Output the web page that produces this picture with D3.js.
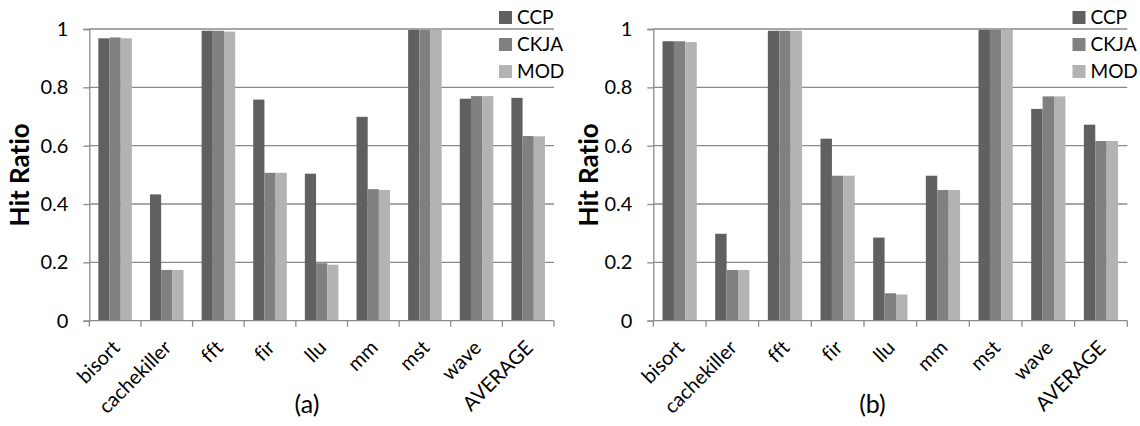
<!DOCTYPE html>
<html>
<head>
<meta charset="utf-8">
<script src="https://cdn.jsdelivr.net/npm/d3@7"></script>
<style>
  body { margin: 0; background: #fff; }
  svg text { font-family: Lato, "Open Sans", sans-serif; fill: #000; font-variant-ligatures: none; }
</style>
</head>
<body>
<svg id="chart" width="1140" height="426"></svg>
<script>
'use strict';
const categories = ["bisort", "cachekiller", "fft", "fir", "llu", "mm", "mst", "wave", "AVERAGE"];
const seriesNames = ["CCP", "CKJA", "MOD"];
const yTicks = [0, 0.2, 0.4, 0.6, 0.8, 1];

// panel (a)
const ccpA  = [0.968, 0.433, 0.994, 0.758, 0.504, 0.699, 0.997, 0.761, 0.764];
const ckjaA = [0.971, 0.174, 0.994, 0.507, 0.197, 0.451, 0.997, 0.770, 0.633];
const modA  = [0.968, 0.174, 0.991, 0.507, 0.192, 0.448, 0.997, 0.770, 0.632];

// panel (b)
const ccpB  = [0.958, 0.298, 0.994, 0.624, 0.285, 0.497, 0.997, 0.726, 0.672];
const ckjaB = [0.958, 0.174, 0.994, 0.497, 0.094, 0.448, 0.997, 0.769, 0.616];
const modB  = [0.955, 0.174, 0.994, 0.497, 0.090, 0.448, 0.997, 0.769, 0.616];

const colors = ["#606060", "#808080", "#b3b3b3"];
const gridColor = "#8a8a8a";

let svg = d3.select("#chart");

drawPanel({left: 89.3, right: 554, titleX: 28.5, legendX: 499, label: "(a)", labelX: 307},
          [ccpA, ckjaA, modA]);
drawPanel({left: 653.3, right: 1127.3, titleX: 598, legendX: 1072.5, label: "(b)", labelX: 872.5},
          [ccpB, ckjaB, modB]);

function drawPanel(p, series) {
    let top = 29, bottom = 320.7;
    let g = svg.append("g");

    let x = d3.scaleBand()
        .domain(categories)
        .range([p.left, p.right])
        .paddingInner(0.35)
        .paddingOuter(0.175);
    let xs = d3.scaleBand()
        .domain(seriesNames)
        .range([0, x.bandwidth()]);
    let y = d3.scaleLinear()
        .domain([0, 1])
        .range([bottom, top]);

    // grid lines
    g.append("g")
        .selectAll("line")
        .data(yTicks.filter(t => t > 0))
        .enter().append("line")
            .attr("x1", p.left).attr("x2", p.right)
            .attr("y1", d => y(d)).attr("y2", d => y(d))
            .attr("stroke", gridColor).attr("stroke-width", 1.3);

    // y axis
    let yAxis = g.append("g")
        .attr("transform", "translate(" + p.left + ",0)")
        .call(d3.axisLeft(y).tickValues(yTicks).tickSize(6).tickPadding(15)
            .tickFormat(d => d3.format("")(d)));
    yAxis.select(".domain").attr("stroke", gridColor).attr("stroke-width", 1.3);
    yAxis.selectAll(".tick line").attr("stroke", gridColor).attr("stroke-width", 1.3);
    yAxis.selectAll(".tick text").attr("font-size", 20).attr("fill", "#000")
        .style("font-family", "Lato, sans-serif");

    // bars
    let groups = g.append("g")
        .selectAll("g")
        .data(categories)
        .enter().append("g")
            .attr("transform", d => "translate(" + x(d) + ",0)");
    groups.selectAll("rect")
        .data((d, i) => seriesNames.map((s, k) => ({s: s, k: k, v: series[k][i]})))
        .enter().append("rect")
            .attr("x", d => xs(d.s))
            .attr("width", xs.bandwidth())
            .attr("y", d => y(d.v))
            .attr("height", d => bottom - y(d.v))
            .attr("fill", d => colors[d.k]);

    // x axis: ticks at category boundaries
    let bounds = categories.map(c => x(c) - x.step() * x.paddingInner() / 2);
    bounds.push(p.right);
    g.append("line")
        .attr("x1", p.left).attr("x2", p.right)
        .attr("y1", bottom).attr("y2", bottom)
        .attr("stroke", gridColor).attr("stroke-width", 1.3);
    g.append("g")
        .selectAll("line")
        .data(bounds)
        .enter().append("line")
            .attr("x1", d => d).attr("x2", d => d)
            .attr("y1", bottom).attr("y2", bottom + 6)
            .attr("stroke", gridColor).attr("stroke-width", 1.3);

    g.append("g")
        .selectAll("text")
        .data(categories)
        .enter().append("text")
            .attr("transform", d => "translate(" + (x(d) + x.bandwidth() / 2 + 1) + "," + 344 + ") rotate(-45)")
            .attr("text-anchor", "end")
            .attr("dy", "0.35em")
            .attr("font-size", 20)
            .text(d => d);

    // axis title
    g.append("text")
        .attr("transform", "translate(" + p.titleX + "," + ((top + bottom) / 2) + ") rotate(-90)")
        .attr("text-anchor", "middle")
        .attr("font-size", 26)
        .attr("font-weight", "bold")
        .text("Hit Ratio");

    // panel label
    g.append("text")
        .attr("x", p.labelX)
        .attr("y", 413)
        .attr("text-anchor", "middle")
        .attr("font-size", 25)
        .text(p.label);

    // legend
    let leg = g.append("g")
        .selectAll("g")
        .data(seriesNames)
        .enter().append("g")
            .attr("transform", (d, i) => "translate(" + p.legendX + "," + (11 + i * 27) + ")");
    leg.append("rect")
        .attr("width", 13).attr("height", 13)
        .attr("fill", (d, i) => colors[i]);
    leg.append("text")
        .attr("x", 18)
        .attr("y", 13)
        .attr("font-size", 19)
        .text(d => d);
}
</script>
</body>
</html>
